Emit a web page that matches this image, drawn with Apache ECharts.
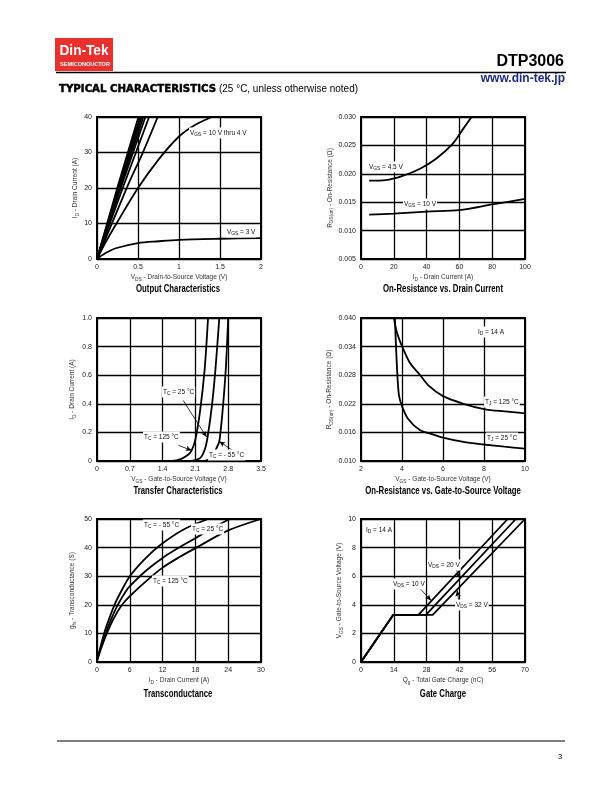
<!DOCTYPE html>
<html><head><meta charset="utf-8">
<script src="https://cdn.jsdelivr.net/npm/echarts@6/dist/echarts.min.js"></script>
<style>html,body{margin:0;padding:0;background:#fff}#c{width:612px;height:792px}</style>
</head><body><div id="c"></div>
<script>
// ---------------- DATA ----------------
// 1. Output characteristics  [VDS (V), ID (A)]
const out_vgs10 = [[0,0],[0.25,20.2],[0.505,40]];
const out_vgs9  = [[0,0],[0.26,20.3],[0.525,40]];
const out_vgs8  = [[0,0],[0.27,20.2],[0.545,40]];
const out_vgs7  = [[0,0],[0.28,20.1],[0.565,40]];
const out_vgs6  = [[0,0],[0.29,20.0],[0.59,40]];
const out_vgs5  = [[0,0],[0.31,19.8],[0.635,40]];
const out_vgs45 = [[0,0],[0.2,11],[0.4,22],[0.55,29.5],[0.74,40]];
const out_vgs4  = [[0,0],[0.1,4.5],[0.25,10.5],[0.5,20],[0.75,28],[1.0,34.5],[1.2,37.8],[1.4,40]];
const out_vgs3  = [[0,0],[0.1,1.6],[0.24,3.1],[0.5,4.5],[0.75,5.0],[1.0,5.4],[1.5,5.7],[2.0,5.9]];
// 2. On-resistance vs drain current [ID (A), RDS(on) (ohm)]
const ron_vgs45 = [[5,0.0188],[15,0.0189],[25,0.0196],[36,0.0209],[46,0.0227],[56,0.0253],[62.5,0.028],[67.6,0.0301]];
const ron_vgs10 = [[5,0.0128],[20,0.0130],[40,0.01335],[60,0.0136],[80,0.0146],[100,0.0156]];
// 3. Transfer characteristics [VGS (V), ID (A)]
const tr_m55  = [[0,0],[2.3,0.001],[2.45,0.03],[2.55,0.09],[2.61,0.137],[2.68,0.35],[2.75,0.65],[2.8,1.0]];
const tr_25   = [[0,0],[2.0,0.001],[2.2,0.02],[2.3,0.08],[2.36,0.167],[2.45,0.38],[2.53,0.65],[2.61,1.0]];
const tr_125  = [[0,0],[1.6,0.001],[1.8,0.015],[1.95,0.045],[2.02,0.074],[2.1,0.15],[2.2,0.35],[2.3,0.65],[2.37,1.0]];
const tr_arrow25  = [[1.84,0.423],[2.34,0.167]];
const tr_arrow125 = [[1.74,0.109],[2.02,0.074]];
const tr_arrowm55 = [[2.94,0.063],[2.61,0.137]];
// 4. On-resistance vs gate-source voltage [VGS (V), RDS(on) (ohm)]
const rg_tj25  = [[3.65,0.0402],[3.75,0.030],[3.85,0.0238],[4.0,0.0215],[4.3,0.0188],[4.87,0.0165],[5.5,0.0156],[6,0.0149],[7,0.0140],[8,0.01346],[9,0.0130],[10,0.0126]];
const rg_tj125 = [[3.6,0.0402],[3.7,0.0378],[3.85,0.0357],[4.02,0.0339],[4.4,0.0305],[4.87,0.0281],[5.3,0.0258],[6,0.0236],[7,0.0220],[8,0.0209],[9,0.0204],[10,0.0200]];
// 5. Transconductance [ID (A), gfs (S)]
const gfs_m55 = [[0,0.5],[0.6,5],[1.3,10],[2.2,15],[3.2,20],[4.5,25],[6,30],[9,36.5],[12,41.5],[16,46.5],[20.3,50]];
const gfs_25  = [[0,0.5],[0.7,5],[1.6,10],[2.6,15],[3.8,20],[5.2,24.5],[6,26.5],[9,32],[12,36.4],[15,40],[18,43.3],[21,46.7],[24.3,50]];
const gfs_125 = [[0,0.5],[0.8,5],[1.8,10],[3,15],[4.4,19.5],[6,23],[9,28.3],[12,33],[15,36.6],[18,39.8],[24,46],[30,50]];
// 6. Gate charge [Qg (nC), VGS (V)]
const gc_vds10 = [[0,0],[13.8,3.3],[24.5,3.3],[62.6,10]];
const gc_vds20 = [[0,0],[13.8,3.3],[27.7,3.3],[66.1,10]];
const gc_vds32 = [[0,0],[13.8,3.3],[30.6,3.3],[70,10]];
const gc_arrow20 = [[40.1,6.69],[42.3,5.85]];
const gc_arrow10 = [[24.8,5.21],[29.9,4.3]];
const gc_arrow32 = [[41.8,4.23],[41.0,5.0]];
// axis ranges/ticks
const x1 = [0,2,0.5], y1 = [0,40,10];
const x2 = [0,100,20], y2 = [0.005,0.030,0.005];
const x3 = [0,3.5,0.7], y3 = [0,1.0,0.2];
const x4 = [2,10,2],   y4 = [0.010,0.040,0.006];
const x5 = [0,30,6],   y5 = [0,50,10];
const x6 = [0,70,14],  y6 = [0,10,2];

// ---------------- LAYOUT ----------------
const FONT = '"Liberation Sans", Arial, Helvetica, sans-serif';
const grids = [
  {left:97, top:117, width:164, height:142},
  {left:361, top:117, width:164, height:142},
  {left:97, top:318, width:164, height:143},
  {left:361, top:318, width:164, height:143},
  {left:97, top:519, width:164, height:143},
  {left:361, top:519, width:164, height:143}
].map(g => Object.assign(g, {show:true, borderColor:'#000', borderWidth:2, backgroundColor:'#fff', containLabel:false, outerBoundsMode:'none'}));

const subStyle = (fs, col) => ({fontSize:fs, fontFamily:FONT, color:col||'#333', padding:[Math.round(fs*0.9),0,0,0]});
const fmtDefault = v => String(+v.toFixed(3));
const fmt1 = v => v === 0 ? '0' : (+v.toFixed(1)).toString();
const fmt1y = v => v === 0 ? '0' : v.toFixed(1);
const fmt3 = v => v.toFixed(3);

function mkX(i, r, name, fmt){
  return {type:'value', gridIndex:i, min:r[0], max:r[1], interval:r[2],
    name, nameLocation:'middle', nameGap:14,
    nameTextStyle:{fontSize:6.5, color:'#333', fontFamily:FONT, rich:{s:subStyle(4.8)}},
    axisLine:{show:true, onZero:false, lineStyle:{color:'#000', width:2}},
    axisTick:{show:false},
    axisLabel:{fontSize:7, color:'#222', fontFamily:FONT, margin:5, formatter:fmt||fmtDefault, showMinLabel:true, showMaxLabel:true},
    splitLine:{show:true, lineStyle:{color:'#000', width:1.3}}};
}
function mkY(i, r, name, gap, fmt){
  return {type:'value', gridIndex:i, min:r[0], max:r[1], interval:r[2],
    name, nameLocation:'middle', nameGap:gap,
    nameTextStyle:{fontSize:6.5, color:'#333', fontFamily:FONT, rich:{s:subStyle(4.8)}},
    axisLine:{show:true, onZero:false, lineStyle:{color:'#000', width:2}},
    axisTick:{show:false},
    axisLabel:{fontSize:7, color:'#222', fontFamily:FONT, margin:5, formatter:fmt||fmtDefault, showMinLabel:true, showMaxLabel:true},
    splitLine:{show:true, lineStyle:{color:'#000', width:1.3}}};
}

const xAxes = [
  mkX(0, x1, 'V{s|DS} - Drain-to-Source Voltage (V)'),
  mkX(1, x2, 'I{s|D} - Drain Current (A)'),
  mkX(2, x3, 'V{s|GS} - Gate-to-Source Voltage (V)', fmt1),
  mkX(3, x4, 'V{s|GS} - Gate-to-Source Voltage (V)'),
  mkX(4, x5, 'I{s|D} - Drain Current (A)'),
  mkX(5, x6, 'Q{s|g} - Total Gate Charge (nC)')
];
const yAxes = [
  mkY(0, y1, 'I{s|D} - Drain Current (A)', 17),
  mkY(1, y2, 'R{s|DS(on)} - On-Resistance (Ω)', 26, fmt3),
  mkY(2, y3, 'I{s|D} - Drain Current (A)', 20, fmt1y),
  mkY(3, y4, 'R{s|DS(on)} - On-Resistance (Ω)', 27, fmt3),
  mkY(4, y5, 'g{s|fs} - Transconductance (S)', 20),
  mkY(5, y6, 'V{s|GS} - Gate-to-Source Voltage (V)', 17)
];

function line(gi, data, smooth, arrows){
  const s = {type:'line', xAxisIndex:gi, yAxisIndex:gi, data, symbol:'none',
    smooth: smooth, lineStyle:{color:'#000', width:1.8},
    silent:true, clip:true, z:3};
  if (arrows) {
    s.markLine = {silent:true, symbol:['none','arrow'], symbolSize:[4,6], animation:false,
      lineStyle:{color:'#000', width:0.8, type:'solid'}, label:{show:false},
      data: arrows.map(a => [{coord:a[0]},{coord:a[1]}])};
  }
  return s;
}

const series = [
  line(0, out_vgs10, false), line(0, out_vgs9, false), line(0, out_vgs8, false),
  line(0, out_vgs7, false), line(0, out_vgs6, false), line(0, out_vgs5, false),
  line(0, out_vgs45, 0.3), line(0, out_vgs4, 0.3), line(0, out_vgs3, 0.3),
  line(1, ron_vgs45, 0.3), line(1, ron_vgs10, 0.3),
  line(2, tr_m55, 0.25, [tr_arrowm55]), line(2, tr_25, 0.25, [tr_arrow25]), line(2, tr_125, 0.25, [tr_arrow125]),
  line(3, rg_tj25, 0.3), line(3, rg_tj125, 0.3),
  line(4, gfs_m55, 0.3), line(4, gfs_25, 0.3), line(4, gfs_125, 0.3),
  line(5, gc_vds10, false, [gc_arrow10]), line(5, gc_vds20, false, [gc_arrow20]), line(5, gc_vds32, false, [gc_arrow32])
];

// text measuring for condensed fonts
const mctx = document.createElement('canvas').getContext('2d');
function fitScale(text, font, target){ mctx.font = font; const w = mctx.measureText(text).width; return target / w; }

function ann(x, y, text, bg){
  return {type:'text', x, y, z:20, silent:true,
    style:{text, fontSize:6.5, fontFamily:FONT, fill:'#111', align:'left', verticalAlign:'middle',
      textAlign:'left', textVerticalAlign:'middle',
      backgroundColor: bg ? '#fff' : undefined, padding: bg ? [1,1,1,1] : 0,
      rich:{s:{fontSize:4.8, fontFamily:FONT, fill:'#111', padding:[4,0,0,0]}}}};
}
const TITLE_FONT = 'bold 10px "Liberation Sans"';
const titleScale = fitScale('Output Characteristics', TITLE_FONT, 84);
function title(cx, y, text){
  return {type:'text', x:cx, y, scaleX:titleScale, silent:true,
    style:{text, fontSize:10, fontWeight:'bold', fontFamily:FONT, fill:'#000', align:'center', verticalAlign:'middle', textAlign:'center', textVerticalAlign:'middle'}};
}

const hdr1Font = 'bold 11px "DejaVu Sans"';
const hdr2Font = '10.5px "Liberation Sans"';
const graphics = [
  // logo
  {type:'rect', shape:{x:55, y:38, width:58, height:33}, style:{fill:'#e8302c'}, silent:true},
  {type:'text', x:84, y:51, scaleX:fitScale('Din-Tek', 'bold 14px "Liberation Sans"', 49), silent:true,
    style:{text:'Din-Tek', fontSize:14, fontWeight:'bold', fontFamily:FONT, fill:'#fff', align:'center', verticalAlign:'middle', textAlign:'center', textVerticalAlign:'middle'}},
  {type:'text', x:85, y:64.5, scaleX:fitScale('SEMICONDUCTOR', 'bold 6px "Liberation Sans"', 50), silent:true,
    style:{text:'SEMICONDUCTOR', fontSize:6, fontWeight:'bold', fontFamily:FONT, fill:'#fff', align:'center', verticalAlign:'middle', textAlign:'center', textVerticalAlign:'middle'}},
  // part number + rule + url
  {type:'text', x:564, y:62, silent:true,
    style:{text:'DTP3006', fontSize:16, fontWeight:'bold', fontFamily:FONT, fill:'#000', align:'right', verticalAlign:'middle', textAlign:'right', textVerticalAlign:'middle'}},
  {type:'line', shape:{x1:56, y1:72.5, x2:566, y2:72.5}, style:{stroke:'#000', lineWidth:1.5}, silent:true},
  {type:'text', x:565, y:79, silent:true,
    style:{text:'www.din-tek.jp', fontSize:12, fontWeight:'bold', fontFamily:FONT, fill:'#1c2a85', align:'right', verticalAlign:'middle', textAlign:'right', textVerticalAlign:'middle'}},
  {type:'text', x:59, y:89, scaleX:fitScale('TYPICAL CHARACTERISTICS', hdr1Font, 157), silent:true,
    style:{text:'TYPICAL CHARACTERISTICS', fontSize:11, fontWeight:'bold', fontFamily:'"DejaVu Sans", sans-serif', fill:'#000', stroke:'#000', lineWidth:0.5, align:'left', verticalAlign:'middle', textAlign:'left', textVerticalAlign:'middle'}},
  {type:'text', x:219, y:89.5, scaleX:fitScale('(25 °C, unless otherwise noted)', hdr2Font, 139), silent:true,
    style:{text:'(25 °C, unless otherwise noted)', fontSize:10.5, fontFamily:FONT, fill:'#000', align:'left', verticalAlign:'middle', textAlign:'left', textVerticalAlign:'middle'}},
  // footer
  {type:'line', shape:{x1:57, y1:741, x2:565, y2:741}, style:{stroke:'#000', lineWidth:1}, silent:true},
  {type:'text', x:560, y:757, silent:true,
    style:{text:'3', fontSize:7.5, fontFamily:FONT, fill:'#000', align:'center', verticalAlign:'middle', textAlign:'center', textVerticalAlign:'middle'}},
  // chart titles
  title(178, 289, 'Output Characteristics'),
  title(443, 289, 'On-Resistance vs. Drain Current'),
  title(178, 491, 'Transfer Characteristics'),
  title(443, 491, 'On-Resistance vs. Gate-to-Source Voltage'),
  title(178, 694, 'Transconductance'),
  title(443, 694, 'Gate Charge'),
  // annotations
  ann(189, 133, 'V{s|GS} = 10 V thru 4 V', true),
  ann(226, 232, 'V{s|GS} = 3 V', true),
  ann(368, 167, 'V{s|GS} = 4.5 V', true),
  ann(403, 204, 'V{s|GS} = 10 V', true),
  ann(162, 392, 'T{s|C} = 25 °C', true),
  ann(143, 437, 'T{s|C} = 125 °C', true),
  ann(208, 455, 'T{s|C} = - 55 °C', true),
  ann(477, 332, 'I{s|D} = 14 A', true),
  ann(484, 402, 'T{s|J} = 125 °C', true),
  ann(486, 438, 'T{s|J} = 25 °C', true),
  ann(143, 525, 'T{s|C} = - 55 °C', true),
  ann(191, 529, 'T{s|C} = 25 °C', true),
  ann(152, 581, 'T{s|C} = 125 °C', true),
  ann(365, 530, 'I{s|D} = 14 A', true),
  ann(427, 565, 'V{s|DS} = 20 V', true),
  ann(392, 584, 'V{s|DS} = 10 V', true),
  ann(455, 605, 'V{s|DS} = 32 V', true)
];

const chart = echarts.init(document.getElementById('c'), null, {renderer:'canvas', width:612, height:792});
chart.setOption({
  animation:false,
  backgroundColor:'#fff',
  grid: grids,
  xAxis: xAxes,
  yAxis: yAxes,
  series,
  graphic: graphics
});
</script></body></html>
